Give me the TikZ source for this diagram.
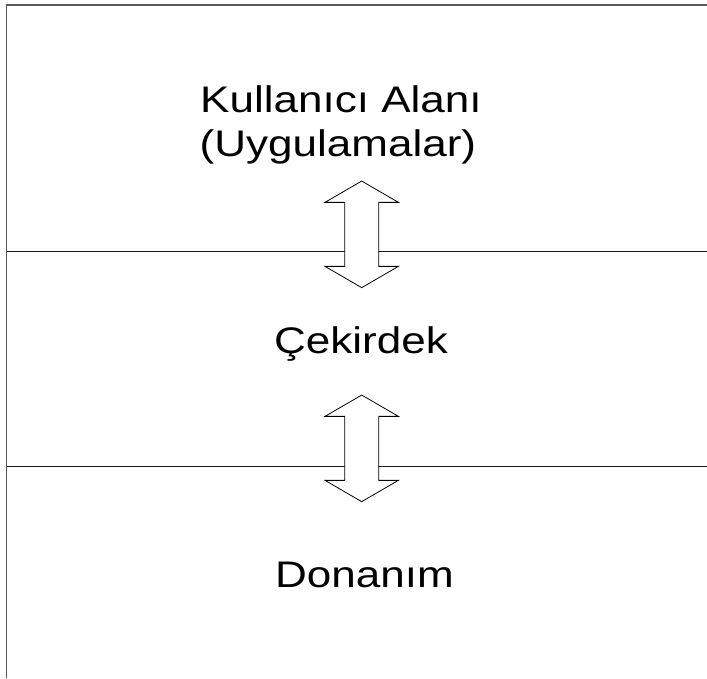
\documentclass[tikz,border=0pt]{standalone}
\usepackage{fontspec}
\newfontfamily\labelfont[FakeStretch=1.19]{Liberation Sans}
\definecolor{framegray}{HTML}{5A5A5A}
\begin{document}
\begin{tikzpicture}[x=1pt,y=-1pt,
  framerule/.style={line width=1.6pt,framegray},
  rule/.style={line width=1.3pt,black!90},
  layertext/.style={inner sep=0pt,font=\labelfont\fontsize{37}{44}\selectfont},
  arrowpoly/.style={draw=black,fill=white,line width=0.8pt,line join=miter},
  updown/.pic={
    \draw[arrowpoly] (0,-53.3) -- (36.7,-32) -- (17,-32) -- (17,32) -- (36.7,32)
      -- (0,53.3) -- (-36.7,32) -- (-17,32) -- (-17,-32) -- (-36.7,-32) -- cycle;
  }]
\useasboundingbox (0,0) rectangle (707,678);

% layer boundaries
\coordinate (s1l) at (6.5,251.7);
\coordinate (s1r) at (707,251.7);
\coordinate (s2l) at (6.5,466.7);
\coordinate (s2r) at (707,466.7);
\draw[rule] (s1l) -- (s1r);
\draw[rule] (s2l) -- (s2r);

% outer frame: left edge and top edge
\coordinate (tl) at (6.5,4.7);
\coordinate (tr) at (707,4.7);
\coordinate (bl) at (6.5,678);
\draw[framerule] (bl) -- (tl) -- (tr);

% two-way arrows across the boundaries
\pic at (361.7,234.35) {updown};
\pic at (361.7,448.35) {updown};

% layer labels
\node[layertext,anchor=base west] (user1) at (200,112.7) {Kullanıcı Alanı};
\node[layertext,anchor=base west] (user2) at (199.5,156) {(Uygulamalar)};
\node[layertext,anchor=base] (kernel) at (361,353) {Çekirdek};
\node[layertext,anchor=base] (hw) at (364.5,587) {Donanım};
\end{tikzpicture}
\end{document}
